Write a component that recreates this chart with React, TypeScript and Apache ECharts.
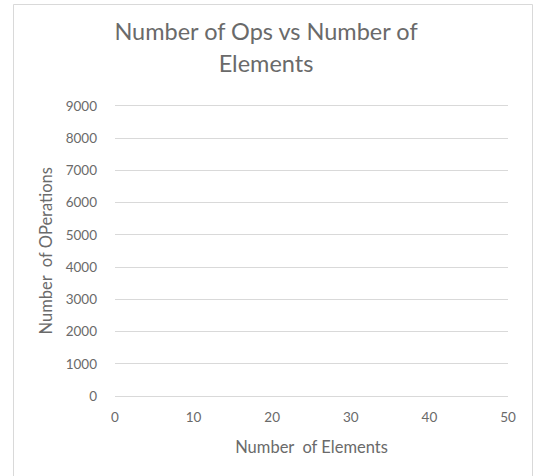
import React, { useEffect, useRef } from "react";
import * as echarts from "echarts";

const titleText = "Number of Ops vs Number of\nElements";
const xAxisName = "Number  of Elements";
const yAxisName = "Number  of OPerations";
const xTicks = [0, 10, 20, 30, 40, 50];
const yTicks = [0, 1000, 2000, 3000, 4000, 5000, 6000, 7000, 8000, 9000];
const seriesData: [number, number][] = [];

const FONT = "Lato, 'Open Sans', sans-serif";
const GREY = "#6a6a6a";

export default function App() {
  const ref = useRef<HTMLDivElement>(null);
  useEffect(() => {
    if (!ref.current) return;
    const chart = echarts.init(ref.current, undefined, { renderer: "svg" });
    chart.setOption({
      animation: false,
      backgroundColor: "#ffffff",
      textStyle: { fontFamily: FONT },
      title: {
        text: titleText,
        left: 261,
        top: 10,
        textAlign: "center",
        textStyle: {
          fontFamily: FONT,
          fontSize: 23.5,
          fontWeight: "normal",
          color: GREY,
          lineHeight: 32,
        },
      },
      graphic: [
        {
          type: "rect",
          shape: { x: 13.5, y: 4.5, width: 519, height: 480 },
          style: { fill: "none", stroke: "#d9d9d9", lineWidth: 1 },
          silent: true,
        },
      ],
      grid: { left: 115, right: 31, top: 105.5, bottom: 80, containLabel: false },
      xAxis: {
        type: "value",
        min: xTicks[0],
        max: xTicks[xTicks.length - 1],
        interval: 10,
        name: xAxisName,
        nameLocation: "middle",
        nameGap: 42,
        nameTextStyle: { fontFamily: FONT, fontSize: 16.5, color: GREY },
        axisLine: { show: false },
        axisTick: { show: false },
        splitLine: { show: false },
        axisLabel: {
          fontFamily: FONT,
          fontSize: 13.5,
          color: GREY,
          margin: 14,
          formatter: (v: number) => String(v),
        },
      },
      yAxis: {
        type: "value",
        min: yTicks[0],
        max: yTicks[yTicks.length - 1],
        interval: 1000,
        name: yAxisName,
        nameLocation: "middle",
        nameGap: 56,
        nameRotate: 90,
        nameTextStyle: { fontFamily: FONT, fontSize: 16.5, color: GREY },
        axisLine: { show: false },
        axisTick: { show: false },
        splitLine: { show: true, lineStyle: { color: "#d9d9d9", width: 1 } },
        axisLabel: {
          fontFamily: FONT,
          fontSize: 13.5,
          color: GREY,
          margin: 18,
          formatter: (v: number) => String(v),
        },
      },
      series: [
        {
          type: "scatter",
          data: seriesData,
          symbolSize: 5,
          itemStyle: { color: "#4472c4" },
        },
      ],
    });
    return () => chart.dispose();
  }, []);
  return (
    <div
      ref={ref}
      style={{ position: "fixed", left: 0, top: 0, width: 539, height: 476 }}
    />
  );
}
